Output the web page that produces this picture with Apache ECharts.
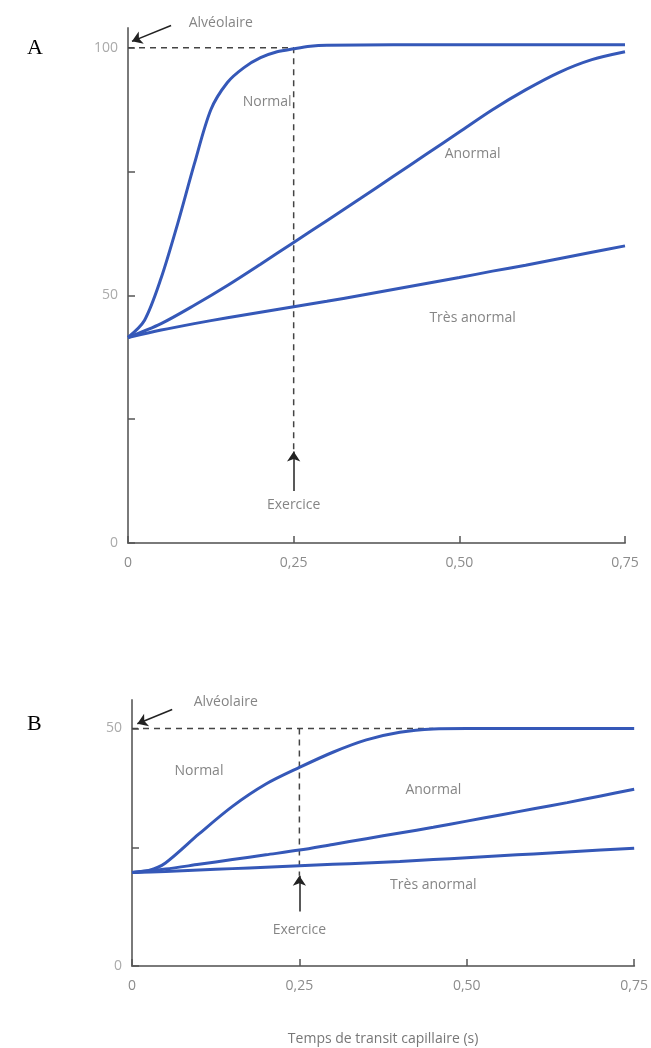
<!DOCTYPE html>
<html><head><meta charset="utf-8">
<script src="https://cdn.jsdelivr.net/npm/echarts@6/dist/echarts.min.js"></script>
<style>html,body{margin:0;padding:0;background:#fff}#c{width:651px;height:1048px}</style>
</head><body><div id="c"></div>
<script>
// ---------- Data (panel A) ----------
const tA_normal = [0, 0.025, 0.05, 0.075, 0.1, 0.125, 0.15, 0.175, 0.2, 0.225, 0.25, 0.275, 0.3, 0.4, 0.5, 0.6, 0.75];
const vA_normal = [41.5, 45, 53.5, 64.5, 76.5, 87.5, 93, 96, 98, 99.2, 99.8, 100.3, 100.5, 100.6, 100.6, 100.6, 100.6];
const tA = [0, 0.05, 0.1, 0.15, 0.2, 0.25, 0.3, 0.35, 0.4, 0.45, 0.5, 0.55, 0.6, 0.65, 0.7, 0.75];
const vA_anormal = [41.5, 44.3, 48, 52, 56.3, 60.7, 65.1, 69.5, 74, 78.5, 83, 87.5, 91.5, 95, 97.6, 99.2];
const vA_tres = [41.5, 43, 44.3, 45.5, 46.6, 47.7, 48.8, 50, 51.2, 52.4, 53.6, 54.9, 56.1, 57.4, 58.7, 60];
// ---------- Data (panel B) ----------
const tB_normal = [0, 0.025, 0.05, 0.1, 0.15, 0.2, 0.25, 0.3, 0.35, 0.4, 0.45, 0.5, 0.6, 0.75];
const vB_normal = [19.7, 20.1, 21.7, 27.8, 33.6, 38.3, 41.8, 45, 47.6, 49.2, 49.9, 50, 50, 50];
const tB = [0, 0.05, 0.1, 0.15, 0.2, 0.25, 0.3, 0.35, 0.4, 0.45, 0.5, 0.55, 0.6, 0.65, 0.7, 0.75];
const vB_anormal = [19.7, 20.4, 21.4, 22.4, 23.4, 24.4, 25.6, 26.8, 28, 29.2, 30.5, 31.8, 33.1, 34.4, 35.8, 37.2];
const vB_tres = [19.7, 19.9, 20.2, 20.5, 20.8, 21.1, 21.4, 21.7, 22, 22.4, 22.8, 23.2, 23.6, 24, 24.4, 24.8];
// ---------- Axes ----------
const xTicks = [0, 0.25, 0.5, 0.75];
const xTickLabels = ['0', '0,25', '0,50', '0,75'];
const yTicksA = [0, 25, 50, 75, 100];
const yLabelsA = [0, 50, 100];
const yTicksB = [0, 25, 50];
const yLabelsB = [0, 50];
const alveolarA = 100, alveolarB = 50, exerciseT = 0.25;
const xTitle = 'Temps de transit capillaire (s)';

const pairs = (t, v) => t.map((x, i) => [x, v[i]]);
const BLUE = '#3558b8';
const GRAY = '#8c8c8c';
const FONT = '"Open Sans", "DejaVu Sans", sans-serif';

function xAxis(gi, name) {
  return {
    gridIndex: gi, type: 'value', min: 0, max: 0.75,
    axisLine: { show: true, onZero: false, lineStyle: { color: '#7a7a7a', width: 2 } },
    axisTick: { show: true, inside: true, length: 7, customValues: xTicks, lineStyle: { color: '#555', width: 1.5 } },
    axisLabel: { customValues: xTicks, color: GRAY, fontFamily: FONT, fontSize: 14, margin: 13,
      formatter: v => xTickLabels[xTicks.indexOf(v)] },
    splitLine: { show: false },
    name: name || '', nameLocation: 'middle', nameGap: 66,
    nameTextStyle: { color: '#777', fontFamily: FONT, fontSize: 14 }
  };
}
function yAxis(gi, max, ticks, labels) {
  return {
    gridIndex: gi, type: 'value', min: 0, max: max,
    axisLine: { show: true, lineStyle: { color: '#7a7a7a', width: 2 } },
    axisTick: { show: true, inside: true, length: 7, customValues: ticks, lineStyle: { color: '#555', width: 1.5 } },
    axisLabel: { customValues: labels, color: '#aaa', fontFamily: FONT, fontSize: 14, margin: 10 },
    splitLine: { show: false }
  };
}
function curve(gi, data) {
  return { type: 'line', xAxisIndex: gi, yAxisIndex: gi, data: data, smooth: 0.3, showSymbol: false,
    lineStyle: { color: BLUE, width: 3 }, silent: true, z: 3 };
}
function dashed(gi, data) {
  return { type: 'line', xAxisIndex: gi, yAxisIndex: gi, data: data, showSymbol: false, silent: true,
    lineStyle: { color: '#444', width: 1.5, type: [6, 5] }, z: 2 };
}
function arrow(gi, from, to) {
  return { type: 'lines', coordinateSystem: 'cartesian2d', xAxisIndex: gi, yAxisIndex: gi, silent: true, clip: false,
    symbol: ['none', 'arrow'], symbolSize: 10,
    lineStyle: { color: '#222', width: 1.5, opacity: 1 }, data: [{ coords: [from, to] }], z: 4 };
}
function labels(gi, items) {
  return { type: 'scatter', xAxisIndex: gi, yAxisIndex: gi, symbolSize: 0, silent: true, clip: false,
    data: items.map(d => ({ value: [d[0], d[1]], name: d[2] })),
    label: { show: true, position: 'inside', formatter: p => p.name, color: '#666', fontFamily: FONT, fontSize: 14 }, z: 5 };
}

const option = {
  backgroundColor: '#fff',
  animation: false,
  title: [
    { text: 'A', left: 22, top: 32, textStyle: { fontFamily: '"Liberation Serif", serif', fontWeight: 'normal', fontSize: 22, color: '#000' } },
    { text: 'B', left: 22, top: 708, textStyle: { fontFamily: '"Liberation Serif", serif', fontWeight: 'normal', fontSize: 22, color: '#000' } }
  ],
  grid: [
    { left: 128, right: 26, top: 28, bottom: 505 },
    { left: 132, right: 14, top: 700, bottom: 82 }
  ],
  xAxis: [xAxis(0), xAxis(1, xTitle)],
  yAxis: [yAxis(0, 104, yTicksA, yLabelsA), yAxis(1, 56, yTicksB, yLabelsB)],
  series: [
    dashed(0, [[0, alveolarA], [exerciseT, alveolarA], [exerciseT, 18]]),
    curve(0, pairs(tA_normal, vA_normal)),
    curve(0, pairs(tA, vA_anormal)),
    curve(0, pairs(tA, vA_tres)),
    arrow(0, [exerciseT, 10.5], [exerciseT, 18.5]),
    arrow(0, [0.065, 104.5], [0.006, 101.3]),
    labels(0, [[0.14, 105, 'Alvéolaire'], [0.21, 89, 'Normal'], [0.52, 78.5, 'Anormal'], [0.52, 45.5, 'Très anormal'], [exerciseT, 7.7, 'Exercice']]),
    dashed(1, [[0, alveolarB], [0.45, alveolarB]]),
    dashed(1, [[exerciseT, alveolarB], [exerciseT, 19]]),
    curve(1, pairs(tB_normal, vB_normal)),
    curve(1, pairs(tB, vB_anormal)),
    curve(1, pairs(tB, vB_tres)),
    arrow(1, [exerciseT, 11.5], [exerciseT, 19]),
    arrow(1, [0.06, 54], [0.008, 51]),
    labels(1, [[0.14, 55.5, 'Alvéolaire'], [0.1, 41, 'Normal'], [0.45, 37, 'Anormal'], [0.45, 17, 'Très anormal'], [exerciseT, 7.6, 'Exercice']])
  ]
};
const chart = echarts.init(document.getElementById('c'), null, { renderer: 'canvas' });
chart.setOption(option);
</script></body></html>
